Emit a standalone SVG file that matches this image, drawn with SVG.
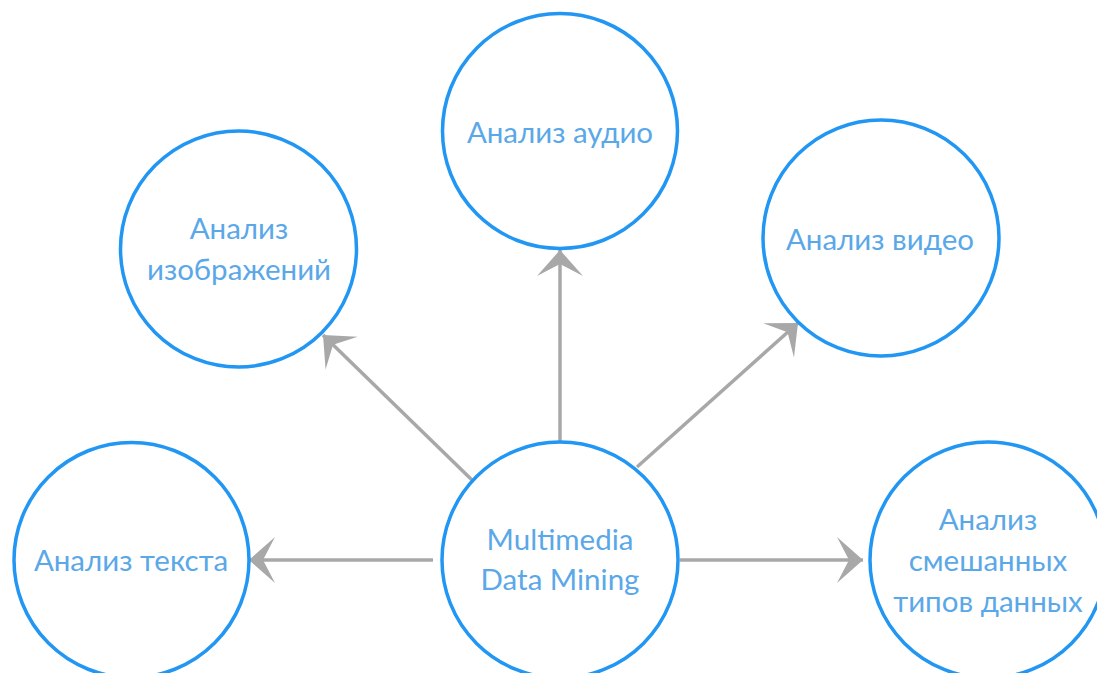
<svg xmlns="http://www.w3.org/2000/svg" width="1097" height="673" viewBox="0 0 1097 673">
<style>
.node{fill:#fff;stroke:#2196f3;stroke-width:3.5}
.lbl{font-family:Lato,"Open Sans","Noto Sans",sans-serif;font-size:29.5px;fill:#5aa8e8;text-anchor:middle}
.conn{stroke:#a8a8a8;stroke-width:3.5;fill:none}
</style>
<defs>
<marker id="arr" markerUnits="userSpaceOnUse" orient="auto" refX="0" refY="0" markerWidth="60" markerHeight="60" viewBox="-30 -30 60 60" overflow="visible">
<path d="M0,0 L-26,-23 L-14,0 L-26,23 Z" fill="#a8a8a8"/>
</marker>
</defs>
<rect width="1097" height="673" fill="#fff"/>
<g id="connectors">
<line class="conn" x1="560" y1="442" x2="560" y2="250" marker-end="url(#arr)"/>
<line class="conn" x1="433" y1="560" x2="249" y2="560" marker-end="url(#arr)"/>
<line class="conn" x1="680" y1="560" x2="863" y2="560" marker-end="url(#arr)"/>
<line class="conn" x1="472" y1="480" x2="323" y2="335" marker-end="url(#arr)"/>
<line class="conn" x1="637" y1="467" x2="798" y2="323" marker-end="url(#arr)"/>
</g>
<g id="center">
<circle class="node" cx="560" cy="560" r="118"/>
<text class="lbl" x="560" y="550">Multimedia</text>
<text class="lbl" x="560" y="590">Data Mining</text>
</g>
<g id="audio">
<circle class="node" cx="560" cy="131" r="117.5"/>
<text class="lbl" x="560" y="143">Анализ аудио</text>
</g>
<g id="images">
<circle class="node" cx="238.5" cy="249" r="118"/>
<text class="lbl" x="239" y="239">Анализ</text>
<text class="lbl" x="239" y="280">изображений</text>
</g>
<g id="video">
<circle class="node" cx="881" cy="238" r="118"/>
<text class="lbl" x="880" y="250">Анализ видео</text>
</g>
<g id="text">
<circle class="node" cx="131.5" cy="560" r="117.5"/>
<text class="lbl" x="131" y="571">Анализ текста</text>
</g>
<g id="mixed">
<circle class="node" cx="988" cy="560" r="118"/>
<text class="lbl" x="988" y="530">Анализ</text>
<text class="lbl" x="988" y="571">смешанных</text>
<text class="lbl" x="988" y="612">типов данных</text>
</g>
</svg>
